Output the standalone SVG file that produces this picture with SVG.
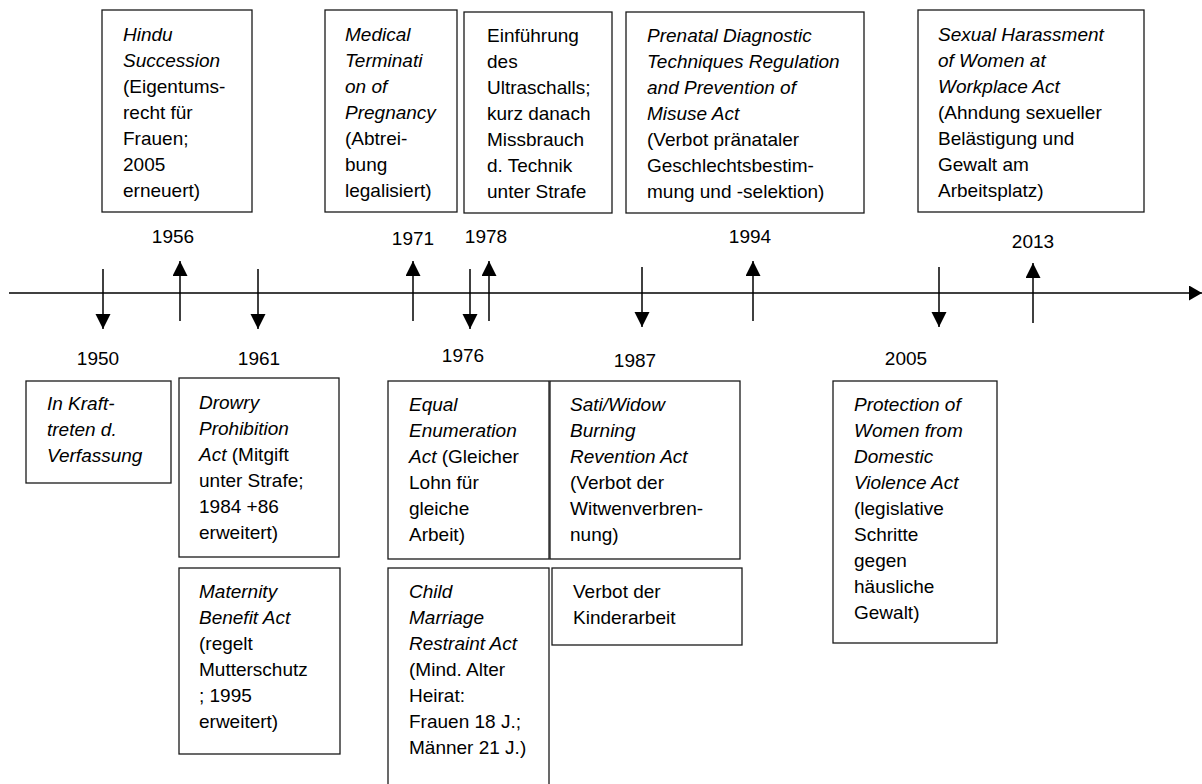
<svg xmlns="http://www.w3.org/2000/svg" width="1202" height="784" viewBox="0 0 1202 784">
<style>
  .box { fill: #ffffff; stroke: #1a1a1a; stroke-width: 1.3; }
  .t { font-family: "Liberation Sans", Arial, sans-serif; font-size: 19px; fill: #000000; }
  .i { font-style: italic; }
  .yr { font-family: "Liberation Sans", Arial, sans-serif; font-size: 19px; fill: #000000; text-anchor: middle; }
  .ar { stroke: #000000; stroke-width: 1.5; fill: none; marker-end: url(#head); }
  .axis { stroke: #000000; stroke-width: 1.6; fill: none; marker-end: url(#axhead); }
</style>
<defs>
  <marker id="head" markerUnits="userSpaceOnUse" markerWidth="16" markerHeight="16" refX="15" refY="7.5" orient="auto">
    <path d="M0,0 L15,7.5 L0,15 Z" fill="#000000"/>
  </marker>
  <marker id="axhead" markerUnits="userSpaceOnUse" markerWidth="14" markerHeight="16" refX="13" refY="7.5" orient="auto">
    <path d="M0,0 L13,7.5 L0,15 Z" fill="#000000"/>
  </marker>
</defs>
<rect width="1202" height="784" fill="#ffffff"/>

<g id="connectors">
  <line class="axis" x1="9" y1="293" x2="1202" y2="293"/>
  <line class="ar" x1="103" y1="269" x2="103" y2="329"/>
  <line class="ar" x1="180" y1="321" x2="180" y2="261"/>
  <line class="ar" x1="258" y1="269" x2="258" y2="329"/>
  <line class="ar" x1="413" y1="321" x2="413" y2="261"/>
  <line class="ar" x1="470" y1="269" x2="470" y2="329"/>
  <line class="ar" x1="489" y1="321" x2="489" y2="261"/>
  <line class="ar" x1="642" y1="267" x2="642" y2="327"/>
  <line class="ar" x1="753" y1="321" x2="753" y2="261"/>
  <line class="ar" x1="939" y1="267" x2="939" y2="327"/>
  <line class="ar" x1="1033" y1="323" x2="1033" y2="263"/>
</g>

<g id="years">
  <text class="yr" x="173" y="243">1956</text>
  <text class="yr" x="413" y="245">1971</text>
  <text class="yr" x="486" y="243">1978</text>
  <text class="yr" x="750" y="243">1994</text>
  <text class="yr" x="1033" y="248">2013</text>
  <text class="yr" x="98" y="365">1950</text>
  <text class="yr" x="259" y="365">1961</text>
  <text class="yr" x="463" y="362">1976</text>
  <text class="yr" x="635" y="367">1987</text>
  <text class="yr" x="906" y="365">2005</text>
</g>

<g id="node-hindu">
  <rect class="box" x="102" y="10" width="150" height="202"/>
  <text class="t">
    <tspan class="i" x="123" y="41">Hindu</tspan>
    <tspan class="i" x="123" y="67">Succession</tspan>
    <tspan x="123" y="93">(Eigentums-</tspan>
    <tspan x="123" y="119">recht für</tspan>
    <tspan x="123" y="145">Frauen;</tspan>
    <tspan x="123" y="171">2005</tspan>
    <tspan x="123" y="197">erneuert)</tspan>
  </text>
</g>

<g id="node-medical">
  <rect class="box" x="325" y="10" width="132" height="202"/>
  <text class="t">
    <tspan class="i" x="345" y="41">Medical</tspan>
    <tspan class="i" x="345" y="67">Terminati</tspan>
    <tspan class="i" x="345" y="93">on of</tspan>
    <tspan class="i" x="345" y="119">Pregnancy</tspan>
    <tspan x="345" y="145">(Abtrei-</tspan>
    <tspan x="345" y="171">bung</tspan>
    <tspan x="345" y="197">legalisiert)</tspan>
  </text>
</g>

<g id="node-ultraschall">
  <rect class="box" x="464" y="12" width="148" height="201"/>
  <text class="t">
    <tspan x="487" y="42">Einführung</tspan>
    <tspan x="487" y="68">des</tspan>
    <tspan x="487" y="94">Ultraschalls;</tspan>
    <tspan x="487" y="120">kurz danach</tspan>
    <tspan x="487" y="146">Missbrauch</tspan>
    <tspan x="487" y="172">d. Technik</tspan>
    <tspan x="487" y="198">unter Strafe</tspan>
  </text>
</g>

<g id="node-prenatal">
  <rect class="box" x="626" y="12" width="238" height="201"/>
  <text class="t">
    <tspan class="i" x="647" y="42">Prenatal Diagnostic</tspan>
    <tspan class="i" x="647" y="68">Techniques Regulation</tspan>
    <tspan class="i" x="647" y="94">and Prevention of</tspan>
    <tspan class="i" x="647" y="120">Misuse Act</tspan>
    <tspan x="647" y="146">(Verbot pränataler</tspan>
    <tspan x="647" y="172">Geschlechtsbestim-</tspan>
    <tspan x="647" y="198">mung und -selektion)</tspan>
  </text>
</g>

<g id="node-harassment">
  <rect class="box" x="918" y="10" width="226" height="202"/>
  <text class="t">
    <tspan class="i" x="938" y="41">Sexual Harassment</tspan>
    <tspan class="i" x="938" y="67">of Women at</tspan>
    <tspan class="i" x="938" y="93">Workplace Act</tspan>
    <tspan x="938" y="119">(Ahndung sexueller</tspan>
    <tspan x="938" y="145">Belästigung und</tspan>
    <tspan x="938" y="171">Gewalt am</tspan>
    <tspan x="938" y="197">Arbeitsplatz)</tspan>
  </text>
</g>

<g id="node-verfassung">
  <rect class="box" x="26" y="381" width="145" height="102"/>
  <text class="t i">
    <tspan x="47" y="410">In Kraft-</tspan>
    <tspan x="47" y="436">treten d.</tspan>
    <tspan x="47" y="462">Verfassung</tspan>
  </text>
</g>

<g id="node-dowry">
  <rect class="box" x="179" y="378" width="160" height="179"/>
  <text class="t">
    <tspan class="i" x="199" y="409">Drowry</tspan>
    <tspan class="i" x="199" y="435">Prohibition</tspan>
    <tspan class="i" x="199" y="461">Act</tspan><tspan> (Mitgift</tspan>
    <tspan x="199" y="487">unter Strafe;</tspan>
    <tspan x="199" y="513">1984 +86</tspan>
    <tspan x="199" y="539">erweitert)</tspan>
  </text>
</g>

<g id="node-maternity">
  <rect class="box" x="179" y="568" width="161" height="186"/>
  <text class="t">
    <tspan class="i" x="199" y="598">Maternity</tspan>
    <tspan class="i" x="199" y="624">Benefit Act</tspan>
    <tspan x="199" y="650">(regelt</tspan>
    <tspan x="199" y="676">Mutterschutz</tspan>
    <tspan x="199" y="702">; 1995</tspan>
    <tspan x="199" y="728">erweitert)</tspan>
  </text>
</g>

<g id="node-equal">
  <rect class="box" x="388" y="381" width="161" height="178"/>
  <text class="t">
    <tspan class="i" x="409" y="411">Equal</tspan>
    <tspan class="i" x="409" y="437">Enumeration</tspan>
    <tspan class="i" x="409" y="463">Act</tspan><tspan> (Gleicher</tspan>
    <tspan x="409" y="489">Lohn für</tspan>
    <tspan x="409" y="515">gleiche</tspan>
    <tspan x="409" y="541">Arbeit)</tspan>
  </text>
</g>

<g id="node-childmarriage">
  <rect class="box" x="388" y="568" width="161" height="240"/>
  <text class="t">
    <tspan class="i" x="409" y="598">Child</tspan>
    <tspan class="i" x="409" y="624">Marriage</tspan>
    <tspan class="i" x="409" y="650">Restraint Act</tspan>
    <tspan x="409" y="676">(Mind. Alter</tspan>
    <tspan x="409" y="702">Heirat:</tspan>
    <tspan x="409" y="728">Frauen 18 J.;</tspan>
    <tspan x="409" y="754">Männer 21 J.)</tspan>
  </text>
</g>

<g id="node-sati">
  <rect class="box" x="550" y="381" width="190" height="178"/>
  <text class="t">
    <tspan class="i" x="570" y="411">Sati/Widow</tspan>
    <tspan class="i" x="570" y="437">Burning</tspan>
    <tspan class="i" x="570" y="463">Revention Act</tspan>
    <tspan x="570" y="489">(Verbot der</tspan>
    <tspan x="570" y="515">Witwenverbren-</tspan>
    <tspan x="570" y="541">nung)</tspan>
  </text>
</g>

<g id="node-kinderarbeit">
  <rect class="box" x="552" y="568" width="190" height="77"/>
  <text class="t">
    <tspan x="573" y="598">Verbot der</tspan>
    <tspan x="573" y="624">Kinderarbeit</tspan>
  </text>
</g>

<g id="node-domestic">
  <rect class="box" x="833" y="381" width="164" height="262"/>
  <text class="t">
    <tspan class="i" x="854" y="411">Protection of</tspan>
    <tspan class="i" x="854" y="437">Women from</tspan>
    <tspan class="i" x="854" y="463">Domestic</tspan>
    <tspan class="i" x="854" y="489">Violence Act</tspan>
    <tspan x="854" y="515">(legislative</tspan>
    <tspan x="854" y="541">Schritte</tspan>
    <tspan x="854" y="567">gegen</tspan>
    <tspan x="854" y="593">häusliche</tspan>
    <tspan x="854" y="619">Gewalt)</tspan>
  </text>
</g>
</svg>
